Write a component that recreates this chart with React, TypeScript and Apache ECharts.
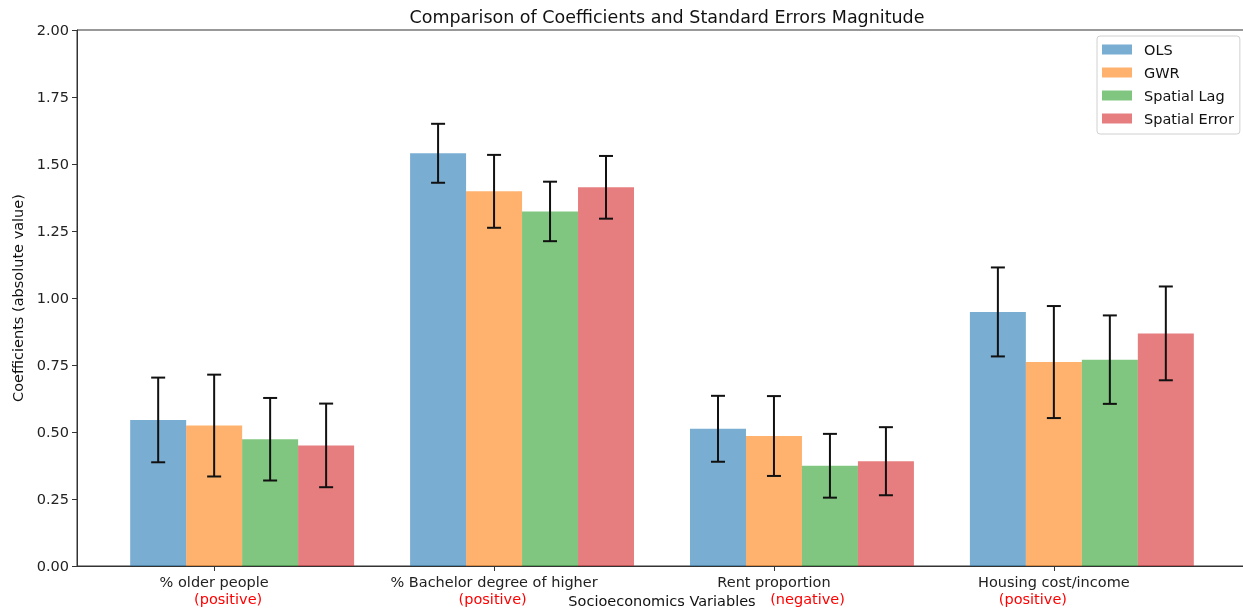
import React, { useEffect, useRef } from "react";
import * as echarts from "echarts";

const categories = ["% older people", "% Bachelor degree of higher", "Rent proportion", "Housing cost/income"];
const methods = ["OLS", "GWR", "Spatial Lag", "Spatial Error"];
const colors = ["rgba(31,119,180,0.6)", "rgba(255,127,14,0.6)", "rgba(44,160,44,0.6)", "rgba(214,39,40,0.6)"];

const olsCoef = [0.545, 1.54, 0.512, 0.948];
const olsErr = [0.158, 0.11, 0.123, 0.166];
const gwrCoef = [0.524, 1.398, 0.485, 0.761];
const gwrErr = [0.19, 0.136, 0.149, 0.209];
const lagCoef = [0.473, 1.323, 0.374, 0.77];
const lagErr = [0.154, 0.111, 0.119, 0.165];
const errCoef = [0.45, 1.413, 0.391, 0.868];
const errErr = [0.156, 0.117, 0.127, 0.175];

const signLabels = ["(positive)", "(positive)", "(negative)", "(positive)"];
const signPositions = [0.05, 0.995, 2.12, 2.925];

const coefs = [olsCoef, gwrCoef, lagCoef, errCoef];
const errs = [olsErr, gwrErr, lagErr, errErr];
const barWidth = 0.2;
const offsets = [-0.2, 0, 0.2, 0.4];

const FONT = "DejaVu Sans";
const FS = 14.5;

export default function App() {
  const ref = useRef<HTMLDivElement>(null);
  useEffect(() => {
    if (!ref.current) return;
    const chart = echarts.init(ref.current, null, { renderer: "svg" });
    const series = methods.map((name, si) => ({
      type: "custom",
      name,
      itemStyle: { color: colors[si] },
      data: categories.map((_, ci) => [ci + offsets[si], coefs[si][ci], errs[si][ci]]),
      renderItem: (params: any, api: any) => {
        const x = api.value(0);
        const y = api.value(1);
        const e = api.value(2);
        const p0 = api.coord([x - barWidth / 2, y]);
        const p1 = api.coord([x + barWidth / 2, 0]);
        const c = api.coord([x, y]);
        const top = api.coord([x, y + e]);
        const bot = api.coord([x, y - e]);
        const cap = 7;
        const lineStyle = { stroke: "#111", lineWidth: 2 };
        return {
          type: "group",
          children: [
            { type: "rect", shape: { x: p0[0], y: p0[1], width: p1[0] - p0[0], height: p1[1] - p0[1] }, style: { fill: colors[si] } },
            { type: "line", shape: { x1: c[0], y1: top[1], x2: c[0], y2: bot[1] }, style: lineStyle },
            { type: "line", shape: { x1: c[0] - cap, y1: top[1], x2: c[0] + cap, y2: top[1] }, style: lineStyle },
            { type: "line", shape: { x1: c[0] - cap, y1: bot[1], x2: c[0] + cap, y2: bot[1] }, style: lineStyle },
          ],
        };
      },
    }));
    chart.setOption({
      animation: false,
      textStyle: { fontFamily: FONT },
      title: {
        text: "Comparison of Coefficients and Standard Errors Magnitude",
        left: 662,
        textAlign: "center",
        top: 3,
        textStyle: { fontFamily: FONT, fontSize: 17.5, fontWeight: "normal", color: "#111" },
      },
      legend: {
        orient: "vertical",
        left: 1097,
        top: 36,
        data: methods.map((m, i) => ({ name: m, icon: "rect", itemStyle: { color: colors[i] } })),
        itemWidth: 30,
        itemHeight: 10,
        itemGap: 8,
        padding: [6, 6, 8, 5],
        backgroundColor: "#fff",
        borderColor: "#d0d0d0",
        borderWidth: 1,
        borderRadius: 3,
        textStyle: { fontFamily: FONT, fontSize: FS, color: "#111", padding: [0, 0, 0, 7] },
      },
      grid: {
        left: 77,
        top: 30,
        width: 1170,
        height: 536,
        outerBoundsMode: "none",
        containLabel: false,
        show: true,
        borderColor: "#333",
        borderWidth: 1,
        backgroundColor: "transparent",
      },
      xAxis: {
        type: "value",
        min: -0.49,
        max: 3.69,
        name: "Socioeconomics Variables",
        nameLocation: "middle",
        nameGap: 25,
        nameTextStyle: { fontFamily: FONT, fontSize: FS, color: "#111" },
        axisLine: { show: true, onZero: false, lineStyle: { color: "#333", width: 1 } },
        axisTick: { show: true, length: 5, customValues: [0, 1, 2, 3], lineStyle: { color: "#333" } },
        axisLabel: {
          customValues: [0, 1, 2, 3],
          formatter: (v: number) => categories[Math.round(v)],
          fontFamily: FONT,
          fontSize: FS,
          color: "#222",
          margin: 8,
        },
        splitLine: { show: false },
      },
      yAxis: {
        type: "value",
        min: 0,
        max: 2,
        interval: 0.25,
        name: "Coefficients (absolute value)",
        nameLocation: "middle",
        nameGap: 50,
        nameTextStyle: { fontFamily: FONT, fontSize: FS, color: "#111" },
        axisLine: { show: true, onZero: false, lineStyle: { color: "#333", width: 1 } },
        axisTick: { show: true, length: 5, lineStyle: { color: "#333" } },
        axisLabel: { formatter: (v: number) => v.toFixed(2), fontFamily: FONT, fontSize: FS, color: "#222", margin: 8 },
        splitLine: { show: false },
      },
      series,
    });
    const graphics = signLabels.map((t, i) => {
      const px = chart.convertToPixel({ xAxisIndex: 0 }, signPositions[i]) as number;
      return {
        type: "text",
        x: px,
        y: 599,
        style: { text: t, fill: "#ff0000", font: `${FS}px ${FONT}`, textAlign: "center", textVerticalAlign: "middle" },
      };
    });
    chart.setOption({ graphic: graphics });
    return () => chart.dispose();
  }, []);
  return <div ref={ref} style={{ position: "fixed", left: 0, top: 0, width: 1243, height: 608 }} />;
}
